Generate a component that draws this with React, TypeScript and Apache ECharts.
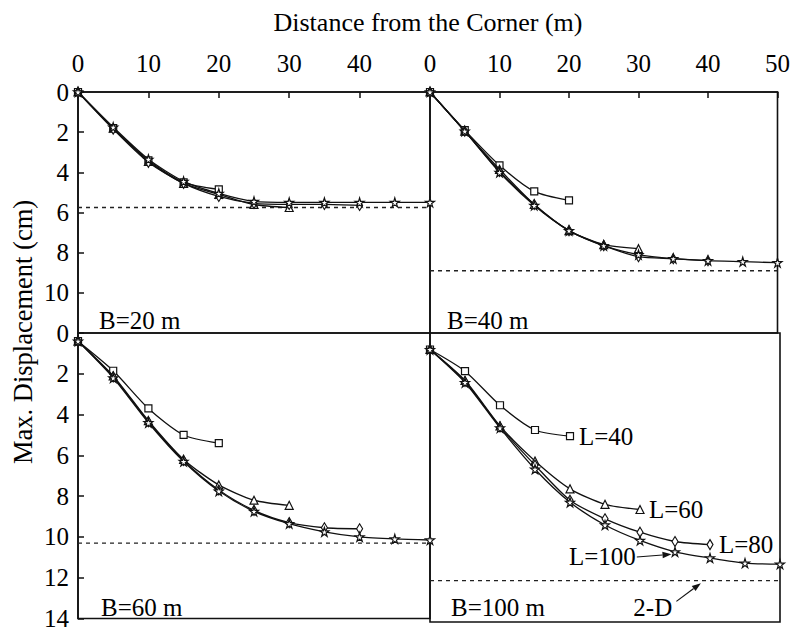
import React, { useEffect, useRef } from "react";
import * as echarts from "echarts";

// Distance from the corner (m)
const DIST = [0, 5, 10, 15, 20, 25, 30, 35, 40, 45, 50];
const X_TICKS = [0, 10, 20, 30, 40, 50];

// B = 20 m
const B20_L40 = [0, 1.8, 3.4, 4.5, 4.85];
const B20_L60 = [0, 1.8, 3.45, 4.55, 5.1, 5.6, 5.75];
const B20_L80 = [0, 1.85, 3.5, 4.55, 5.2, 5.55, 5.6, 5.6, 5.65];
const B20_L100 = [0, 1.75, 3.35, 4.45, 5.05, 5.45, 5.5, 5.5, 5.5, 5.5, 5.5];
// B = 40 m
const B40_L40 = [0, 1.9, 3.65, 4.95, 5.4];
const B40_L60 = [0, 1.95, 3.85, 5.6, 6.9, 7.6, 7.8];
const B40_L80 = [0, 1.95, 3.95, 5.6, 6.9, 7.65, 8.2, 8.3, 8.4];
const B40_L100 = [0, 1.95, 4.0, 5.65, 6.9, 7.65, 8.1, 8.3, 8.4, 8.45, 8.5];
// B = 60 m
const B60_L40 = [0.4, 1.85, 3.7, 5.0, 5.4];
const B60_L60 = [0.4, 2.1, 4.3, 6.2, 7.45, 8.2, 8.45];
const B60_L80 = [0.4, 2.15, 4.35, 6.25, 7.7, 8.7, 9.3, 9.55, 9.6];
const B60_L100 = [0.4, 2.2, 4.4, 6.3, 7.75, 8.75, 9.35, 9.75, 10.0, 10.1, 10.15];
// B = 100 m
const B100_L40 = [0.8, 1.85, 3.5, 4.7, 5.0];
const B100_L60 = [0.8, 2.3, 4.5, 6.2, 7.55, 8.3, 8.55];
const B100_L80 = [0.8, 2.35, 4.55, 6.4, 8.1, 9.0, 9.65, 10.1, 10.25];
const B100_L100 = [0.8, 2.4, 4.6, 6.6, 8.2, 9.3, 10.05, 10.6, 10.9, 11.15, 11.2];

// 2-D solution per panel
const TWO_D = [5.75, 8.9, 10.3, 12.0];
const PANEL_LABELS = ["B=20 m", "B=40 m", "B=60 m", "B=100 m"];
const L_LABELS = ["L=40", "L=60", "L=80", "L=100"];

const PANELS = [
  [B20_L40, B20_L60, B20_L80, B20_L100],
  [B40_L40, B40_L60, B40_L80, B40_L100],
  [B60_L40, B60_L60, B60_L80, B60_L100],
  [B100_L40, B100_L60, B100_L80, B100_L100],
];

const FONT = "Liberation Serif";
const FS = 25;
const STAR =
  "path://M50,0 L61,35 L98,35 L68,57 L79,91 L50,70 L21,91 L32,57 L2,35 L39,35 Z";
const SYMBOLS: any[] = ["rect", "triangle", "diamond", STAR];
const SYMBOL_SIZES: any[] = [7, 8, [6, 10], 9];

const GRIDS = [
  { left: 78, top: 92, width: 352, height: 241 },
  { left: 430, top: 92, width: 350, height: 241 },
  { left: 78, top: 333, width: 352, height: 289 },
  { left: 430, top: 333, width: 350, height: 289 },
];
const Y_MAX = [12, 12, 14, 14];

export default function App() {
  const ref = useRef<HTMLDivElement>(null);
  useEffect(() => {
    const chart = echarts.init(ref.current!, null, { renderer: "svg" });
    const series: any[] = [];
    PANELS.forEach((panel, g) => {
      panel.forEach((vals, k) => {
        series.push({
          type: "line",
          xAxisIndex: g,
          yAxisIndex: g,
          data: vals.map((v, i) => [DIST[i], v]),
          symbol: SYMBOLS[k],
          symbolSize: SYMBOL_SIZES[k],
          smooth: 0.25,
          lineStyle: { color: "#111", width: 1.3 },
          itemStyle: { color: "#fff", borderColor: "#111", borderWidth: 1.2 },
          z: 3 + k,
          endLabel:
            g === 3 && k < 3
              ? {
                  show: true,
                  formatter: L_LABELS[k],
                  distance: 9,
                  fontFamily: FONT,
                  fontSize: FS,
                  color: "#000",
                }
              : { show: false },
        });
      });
      series.push({
        type: "line",
        xAxisIndex: g,
        yAxisIndex: g,
        data: [
          [DIST[0], TWO_D[g]],
          [DIST[DIST.length - 1], TWO_D[g]],
        ],
        symbol: "none",
        lineStyle: { color: "#222", width: 1.3, type: [4, 4] },
        z: 2,
      });
    });

    const option: any = {
      animation: false,
      backgroundColor: "#fff",
      grid: GRIDS.map((gr) => ({
        ...gr,
        show: true,
        borderColor: "#111",
        borderWidth: 1.6,
        backgroundColor: "transparent",
      })),
      xAxis: GRIDS.map((_, g) => ({
        type: "value",
        gridIndex: g,
        position: "top",
        min: X_TICKS[0],
        max: X_TICKS[X_TICKS.length - 1],
        interval: 10,
        axisLine: { show: g < 2, lineStyle: { color: "#111", width: 1.6 } },
        axisTick: { show: g < 2, inside: true, length: 6, lineStyle: { color: "#111", width: 1.5 } },
        axisLabel: {
          show: g < 2,
          showMaxLabel: g === 1,
          margin: 16,
          fontFamily: FONT,
          fontSize: FS,
          color: "#000",
        },
        splitLine: { show: false },
      })),
      yAxis: GRIDS.map((_, g) => ({
        type: "value",
        gridIndex: g,
        inverse: true,
        min: 0,
        max: Y_MAX[g],
        interval: 2,
        axisLine: { show: g % 2 === 0, lineStyle: { color: "#111", width: 1.6 } },
        axisTick: { show: g % 2 === 0, inside: true, length: 6, lineStyle: { color: "#111", width: 1.5 } },
        axisLabel: {
          show: g % 2 === 0,
          showMaxLabel: g === 2,
          margin: 9,
          fontFamily: FONT,
          fontSize: FS,
          color: "#000",
        },
        splitLine: { show: false },
      })),
      series,
    };
    chart.setOption(option);

    const px = (g: number, x: number, y: number) =>
      chart.convertToPixel({ gridIndex: g } as any, [x, y]) as number[];
    const arrow = (a: number[], b: number[]) => {
      const dx = b[0] - a[0];
      const dy = b[1] - a[1];
      const len = Math.hypot(dx, dy);
      const ux = dx / len;
      const uy = dy / len;
      const hl = 9;
      const hw = 3.2;
      const base = [b[0] - ux * hl, b[1] - uy * hl];
      return [
        {
          type: "line",
          shape: { x1: a[0], y1: a[1], x2: base[0], y2: base[1] },
          style: { stroke: "#111", lineWidth: 1.2 },
        },
        {
          type: "polygon",
          shape: {
            points: [
              [b[0], b[1]],
              [base[0] - uy * hw, base[1] + ux * hw],
              [base[0] + uy * hw, base[1] - ux * hw],
            ],
          },
          style: { fill: "#111" },
        },
      ];
    };
    const textStyle = (text: string, align: string, size = FS) => ({
      text,
      font: `${size}px "${FONT}"`,
      fill: "#000",
      textAlign: align,
      textVerticalAlign: "middle",
    });

    const l100Text = px(3, 29.4, 10.85);
    const l100Tip = px(3, 34.5, 10.72);
    const twoDText = px(3, 34.6, 13.3);
    const twoDTail = px(3, 35.2, 13.0);
    const twoDTip = px(3, 38.7, 12.12);

    const panelPos = [
      [99, 320],
      [447, 320],
      [101, 607],
      [451, 607],
    ];

    const graphic: any[] = [
      {
        type: "text",
        x: 428,
        y: 22,
        style: textStyle("Distance from the Corner (m)", "center", 26),
      },
      {
        type: "text",
        x: 23,
        y: 332,
        rotation: Math.PI / 2,
        style: textStyle("Max. Displacement (cm)", "center", 26.5),
      },
      ...PANEL_LABELS.map((t, i) => ({
        type: "text",
        x: panelPos[i][0],
        y: panelPos[i][1],
        style: textStyle(t, "left"),
      })),
      { type: "text", x: l100Text[0], y: l100Text[1], style: textStyle(L_LABELS[3], "right") },
      ...arrow([l100Text[0] + 1, l100Text[1]], l100Tip),
      { type: "text", x: twoDText[0], y: twoDText[1], style: textStyle("2-D", "right") },
      ...arrow(twoDTail, twoDTip),
    ];
    chart.setOption({ graphic });

    return () => chart.dispose();
  }, []);
  return (
    <div
      ref={ref}
      style={{ position: "fixed", left: 0, top: 0, width: 793, height: 631, background: "#fff" }}
    />
  );
}
